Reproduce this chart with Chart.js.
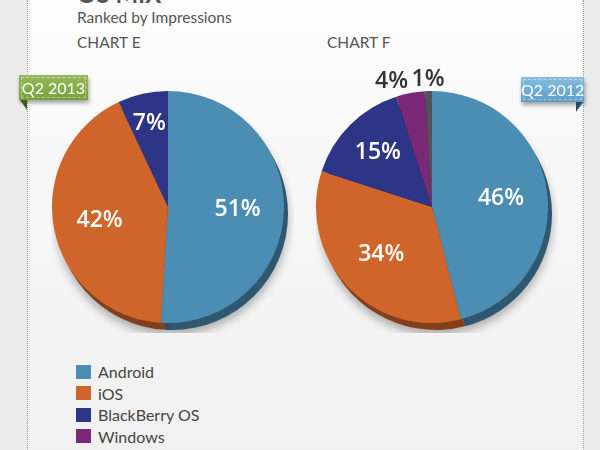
<!DOCTYPE html>
<html>
<head>
<meta charset="utf-8">
<script src="https://cdn.jsdelivr.net/npm/chart.js@4.4.1/dist/chart.umd.min.js"></script>
<style>
    html, body { margin: 0; padding: 0; }
    body {
        width: 600px; height: 450px; overflow: hidden; position: relative;
        background: #ebebeb;
        font-family: Lato, 'Open Sans', sans-serif;
    }
    .panel {
        position: absolute; left: 27px; top: 0; width: 555px; height: 450px;
        background: linear-gradient(#fdfdfd, #f0f0f0);
        border-left: 1px dotted #9a9a9a; border-right: 1px dotted #9a9a9a;
    }
    .title { position: absolute; left: 77px; top: -18px; font-size: 24px; font-weight: 700; color: #555; line-height: 24px; }
    .sub { position: absolute; font-size: 15.5px; color: #555; line-height: 18px; }
    .tab {
        position: absolute; height: 25px; line-height: 25px; text-align: center;
        color: #fff; font-size: 16px; white-space: nowrap;
        box-shadow: 1px 3px 4px rgba(0,0,0,0.35);
        outline: 1px dashed rgba(255,255,255,0.45); outline-offset: -3px;
    }
    .tab.green { left: 19px; top: 75px; width: 69px; background: linear-gradient(#97b95a, #76a03e); }
    .tab.blue { left: 521px; top: 77px; width: 63px; background: linear-gradient(#86bee0, #5d9dc6); }
    .fold { position: absolute; width: 0; height: 0; }
    .fold.green { left: 20px; top: 100px; border-top: 10px solid #3f5e22; border-left: 7px solid transparent; }
    .fold.blue { left: 576px; top: 102px; border-top: 10px solid #22486a; border-right: 7px solid transparent; }
    .pie-wrap { position: absolute; top: 61px; width: 242px; height: 272px; }
    .legend { position: absolute; left: 76px; top: 361px; }
    .legend-row { height: 21.5px; display: flex; align-items: center; font-size: 16px; color: #444; }
    .legend-box { width: 15px; height: 14px; margin-right: 7px; }
</style>
</head>
<body>
<div class="panel"></div>
<div class="title">OS MIX</div>
<div class="sub" style="left:77px;top:8px">Ranked by Impressions</div>
<div class="sub" style="left:77px;top:33px">CHART E</div>
<div class="sub" style="left:327px;top:33px">CHART F</div>

<div class="pie-wrap" style="left:52px"><canvas id="chartE"></canvas></div>
<div class="pie-wrap" style="left:316px"><canvas id="chartF"></canvas></div>

<div class="tab green">Q2 2013</div>
<div class="fold green"></div>
<div class="tab blue">Q2 2012</div>
<div class="fold blue"></div>

<div class="legend" id="legend"></div>

<script>
// OS share by impressions
const categories = ['Android', 'iOS', 'BlackBerry OS', 'Windows', 'Other'];
const q2013Share = [51, 42, 7, 0, 0];
const q2012Share = [46, 34, 15, 4, 1];
const sliceColors = ['#4b8db3', '#d0652b', '#2d3587', '#7c2878', '#505459'];

function shade(hex, f) {
    const n = parseInt(hex.slice(1), 16);
    const r = Math.round(((n >> 16) & 255) * f);
    const g = Math.round(((n >> 8) & 255) * f);
    const b = Math.round((n & 255) * f);
    return `rgb(${r},${g},${b})`;
}

// darker copy of the slices, pushed down-right, gives the 3D edge
const depthPlugin = {
    id: 'depth',
    beforeDatasetsDraw(chart) {
        const ctx = chart.ctx;
        const meta = chart.getDatasetMeta(0);
        ctx.save();
        ctx.shadowColor = 'rgba(0,0,0,0.3)';
        ctx.shadowBlur = 10;
        ctx.shadowOffsetY = 5;
        meta.data.forEach((arc, i) => {
            const p = arc.getProps(['x', 'y', 'startAngle', 'endAngle', 'outerRadius'], true);
            if (p.endAngle - p.startAngle <= 0) return;
            ctx.beginPath();
            ctx.moveTo(p.x + 4, p.y + 7);
            ctx.arc(p.x + 4, p.y + 7, p.outerRadius, p.startAngle, p.endAngle);
            ctx.closePath();
            ctx.fillStyle = shade(sliceColors[i], 0.62);
            ctx.fill();
        });
        ctx.restore();
    }
};

const labelPlugin = {
    id: 'pctLabels',
    afterDatasetsDraw(chart) {
        const ctx = chart.ctx;
        const data = chart.data.datasets[0].data;
        const meta = chart.getDatasetMeta(0);
        ctx.save();
        ctx.textBaseline = 'middle';
        meta.data.forEach((arc, i) => {
            const v = data[i];
            if (!v) return;
            const p = arc.getProps(['x', 'y', 'startAngle', 'endAngle', 'outerRadius'], true);
            const mid = (p.startAngle + p.endAngle) / 2;
            let k = 0.6, color = '#fff', align = 'center';
            if (v < 5) {
                k = 1.1; color = '#333';
                align = (data[i + 1] && data[i + 1] < 5) ? 'right' : 'center';
            } else if (v < 10) k = 0.74;
            else if (v < 20) k = 0.66;
            ctx.font = '600 23px "Open Sans", sans-serif';
            ctx.fillStyle = color;
            ctx.textAlign = align;
            ctx.fillText(v + '%', p.x + Math.cos(mid) * p.outerRadius * k,
                p.y + Math.sin(mid) * p.outerRadius * k);
        });
        ctx.restore();
    }
};

function makePie(id, values) {
    return new Chart(document.getElementById(id), {
        type: 'pie',
        data: {
            labels: categories,
            datasets: [{
                data: values,
                backgroundColor: sliceColors,
                borderWidth: 0,
                hoverOffset: 0
            }]
        },
        options: {
            responsive: true,
            maintainAspectRatio: false,
            animation: false,
            layout: { padding: { top: 30, right: 10, bottom: 10, left: 0 } },
            plugins: {
                legend: { display: false },
                tooltip: { enabled: false }
            }
        },
        plugins: [depthPlugin, labelPlugin]
    });
}

makePie('chartE', q2013Share);
makePie('chartF', q2012Share);

// legend built from the same categories/colours
const legendEl = document.getElementById('legend');
categories.forEach((name, i) => {
    const row = document.createElement('div');
    row.className = 'legend-row';
    row.innerHTML = `<span class="legend-box" style="background:${sliceColors[i]}"></span>${name}`;
    legendEl.appendChild(row);
});
</script>
</body>
</html>
